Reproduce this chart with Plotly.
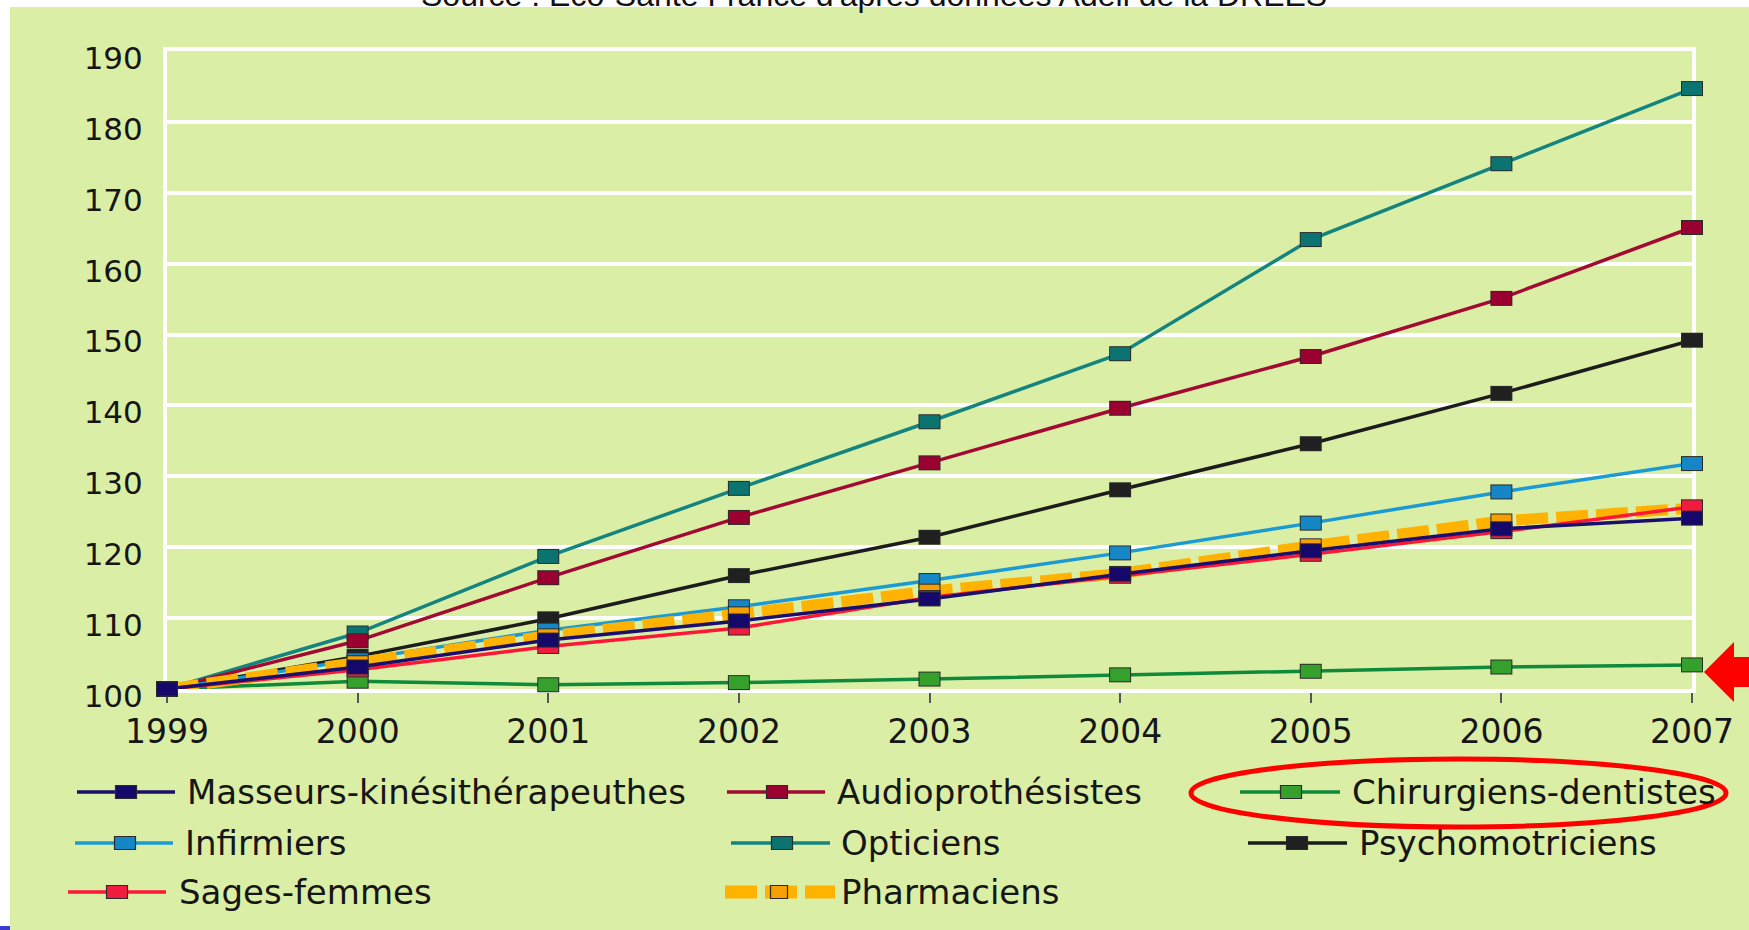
import plotly.graph_objects as go

# Canvas and plot-area geometry (pixels)
W, H = 1749, 930
L, R, T, B = 167, 57, 51, 241
PW, PH = W - L - R, H - T - B


def xp(px):
    return (px - L) / PW


def yp(py):
    return (H - B - py) / PH


BG = "#dbeea5"
TXT = "#161616"
EDGE = "#2b2b2b"

years = [1999, 2000, 2001, 2002, 2003, 2004, 2005, 2006, 2007]

masseurs = [100, 103.1, 106.9, 109.6, 112.7, 116.2, 119.5, 122.6, 124.1]
audioprothesistes = [100, 106.8, 115.7, 124.2, 131.9, 139.6, 146.9, 155.1, 165.1]
chirurgiens = [100, 101.1, 100.6, 100.9, 101.4, 102.0, 102.5, 103.1, 103.4]
infirmiers = [100, 104.1, 108.3, 111.6, 115.3, 119.2, 123.4, 127.8, 131.8]
opticiens = [100, 107.9, 118.7, 128.3, 137.7, 147.3, 163.4, 174.1, 184.7]
psychomotriciens = [100, 104.6, 109.9, 116.0, 121.4, 128.1, 134.6, 141.7, 149.2]
sages_femmes = [100, 102.7, 106.0, 108.6, 112.9, 115.9, 119.0, 122.2, 125.7]
pharmaciens = [100, 103.7, 107.5, 110.6, 113.8, 116.3, 120.2, 123.7, 125.5]

names = ["Masseurs-kinésithérapeuthes", "Audioprothésistes", "Chirurgiens-dentistes",
         "Infirmiers", "Opticiens", "Psychomotriciens",
         "Sages-femmes", "Pharmaciens"]
values = [masseurs, audioprothesistes, chirurgiens,
          infirmiers, opticiens, psychomotriciens,
          sages_femmes, pharmaciens]
line_colors = ["#1b0f6e", "#a30a33", "#0f8a3a", "#1c9ad2", "#13847f", "#1c1c1c", "#ff1535", "#ffb300"]
fill_colors = ["#15086a", "#9a0030", "#35a02c", "#1687c6", "#0b7470", "#202020", "#ef1c40", "#f5a000"]
line_widths = [3.5, 3.5, 3.5, 3.5, 3.5, 3.5, 3.5, 11]
line_dashes = ["solid"] * 7 + ["32px,8px"]

# drawing order, bottom to top
order = [4, 1, 5, 2, 3, 7, 6, 0]

fig = go.Figure()
for i in order:
    fig.add_trace(go.Scatter(
        x=years, y=values[i], mode="lines+markers", name=names[i],
        line=dict(color=line_colors[i], width=line_widths[i], dash=line_dashes[i]),
        marker=dict(symbol="line-ew", size=15.7, color=EDGE, line=dict(width=15, color=EDGE)),
        cliponaxis=False, showlegend=False, hoverinfo="skip"))
    fig.add_trace(go.Scatter(
        x=years, y=values[i], mode="markers", name=names[i],
        marker=dict(symbol="line-ew", size=14.3, color=fill_colors[i],
                    line=dict(width=13, color=fill_colors[i])),
        cliponaxis=False, showlegend=False, hoverinfo="skip"))

shapes = []
annotations = []

# white page edges (top strip, left strip)
shapes.append(dict(type="rect", xref="paper", yref="paper", x0=xp(0), x1=xp(W), y0=yp(7), y1=yp(0),
                   fillcolor="white", line=dict(width=0), layer="below"))
shapes.append(dict(type="rect", xref="paper", yref="paper", x0=xp(0), x1=xp(10), y0=yp(H), y1=yp(0),
                   fillcolor="white", line=dict(width=0), layer="below"))
shapes.append(dict(type="rect", xref="paper", yref="paper", x0=xp(0), x1=xp(10), y0=yp(H), y1=yp(926),
                   fillcolor="#3b3bd0", line=dict(width=0), layer="above"))

# legend block: (line start, line end, marker x, text x, row y)
legend_pos = [
    (77, 175, 126, 185, 792),
    (727, 825, 777, 835, 792),
    (1240, 1340, 1291, 1350, 792),
    (75, 173, 125, 183, 843),
    (731, 830, 782, 839, 843),
    (1248, 1347, 1297, 1357, 843),
    (68, 166, 117, 177, 892),
    (725, 835, 779, 839, 892),
]
for i, (lx0, lx1, mx, tx, ry) in enumerate(legend_pos):
    if i == 7:
        shapes.append(dict(type="line", xref="paper", yref="paper",
                           x0=xp(lx0), x1=xp(lx1), y0=yp(ry), y1=yp(ry),
                           line=dict(color=line_colors[i], width=13, dash="32px,8px"), layer="above"))
        mw, mh = 17, 13
    else:
        shapes.append(dict(type="line", xref="paper", yref="paper",
                           x0=xp(lx0), x1=xp(lx1), y0=yp(ry), y1=yp(ry),
                           line=dict(color=line_colors[i], width=3.5), layer="above"))
        mw, mh = 21, 13
    shapes.append(dict(type="rect", xref="paper", yref="paper",
                       x0=xp(mx - mw / 2), x1=xp(mx + mw / 2), y0=yp(ry + mh / 2), y1=yp(ry - mh / 2),
                       fillcolor=fill_colors[i], line=dict(color=EDGE, width=1.2), layer="above"))
    annotations.append(dict(xref="paper", yref="paper", x=xp(tx), y=yp(ry), xanchor="left", yanchor="middle",
                            text=names[i], showarrow=False,
                            font=dict(family="DejaVu Sans", size=34, color=TXT)))

# highlight ring around the dental surgeons entry
shapes.append(dict(type="circle", xref="paper", yref="paper",
                   x0=xp(1191), x1=xp(1726), y0=yp(827), y1=yp(759),
                   line=dict(color="#ff0000", width=5), layer="above"))

# arrow pointing at the last dental surgeons value
arrow_pts = [(1704, 672), (1734, 642), (1734, 657), (1749, 657), (1749, 687), (1734, 687), (1734, 702)]
path = "M " + " L ".join(f"{xp(x):.5f},{yp(y):.5f}" for x, y in arrow_pts) + " Z"
shapes.append(dict(type="path", xref="paper", yref="paper", path=path,
                   fillcolor="#ff0000", line=dict(width=0), layer="above"))

# source line at the very top
annotations.append(dict(xref="paper", yref="paper", x=xp(874), y=yp(15), xanchor="center", yanchor="bottom",
                        text="Source : Eco-Santé France d'après données Adeli de la DREES", showarrow=False,
                        font=dict(family="Liberation Sans, Arial", size=32, color="#111111")))

fig.update_layout(
    width=W, height=H, autosize=False,
    margin=dict(l=L, r=R, t=T, b=B, pad=0),
    paper_bgcolor=BG, plot_bgcolor=BG,
    showlegend=False,
    shapes=shapes, annotations=annotations,
    xaxis=dict(range=[1999, 2007], tickmode="array", tickvals=years, ticktext=[str(y) for y in years],
               showgrid=False, zeroline=False, showline=True, mirror=True, linecolor="white", linewidth=4,
               ticks="outside", ticklen=10, tickwidth=2, tickcolor="#555555",
               tickfont=dict(family="DejaVu Sans", size=33, color=TXT), layer="below traces"),
    yaxis=dict(range=[100, 190], tickmode="linear", tick0=100, dtick=10,
               showgrid=True, gridcolor="white", gridwidth=4, zeroline=False,
               showline=True, mirror=True, linecolor="white", linewidth=4, ticks="",
               ticklabelshift=7, ticklabelstandoff=14,
               tickfont=dict(family="DejaVu Sans", size=31, color=TXT), layer="below traces"),
)

fig.write_html("out.html")
